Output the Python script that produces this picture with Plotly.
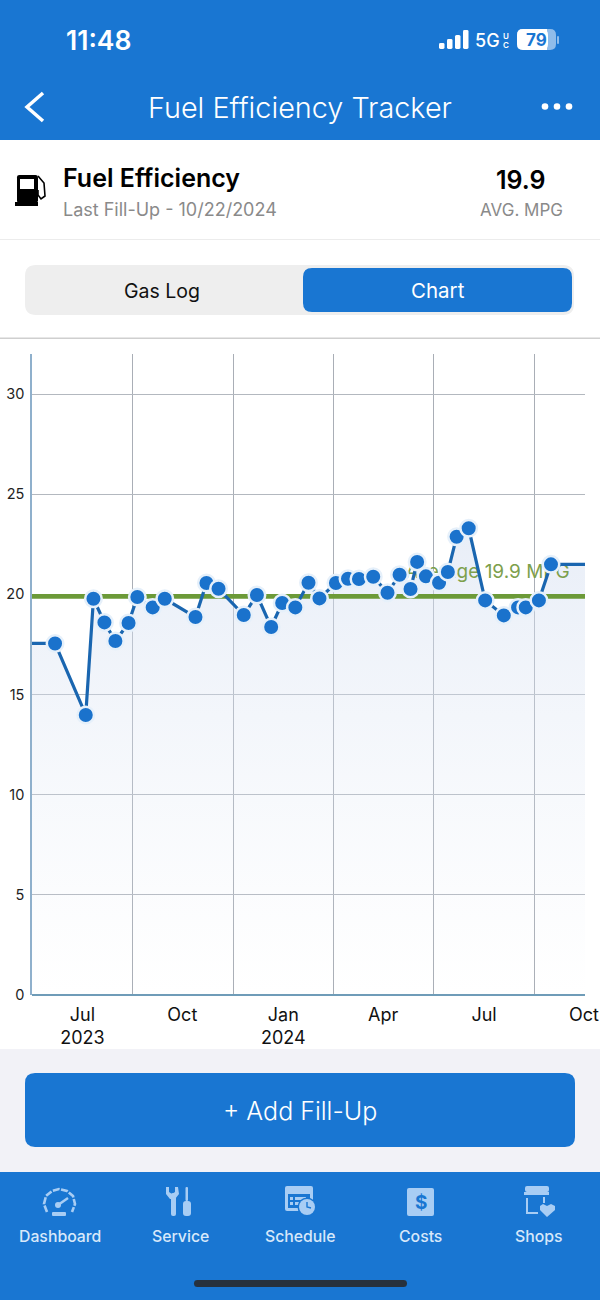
import plotly.graph_objects as go

# values
fill_dates = ["2023-07-22", "2023-08-19", "2023-08-26", "2023-09-05", "2023-09-15", "2023-09-27",
              "2023-10-05", "2023-10-19", "2023-10-30", "2023-11-27", "2023-12-07", "2023-12-18",
              "2024-01-10", "2024-01-22", "2024-02-04", "2024-02-14", "2024-02-26", "2024-03-09",
              "2024-03-19", "2024-04-03", "2024-04-14", "2024-04-24", "2024-05-07", "2024-05-20",
              "2024-05-31", "2024-06-10", "2024-06-16", "2024-06-24", "2024-07-06", "2024-07-14",
              "2024-07-22", "2024-08-02", "2024-08-17", "2024-09-03", "2024-09-16", "2024-09-23",
              "2024-10-05", "2024-10-16"]
mpg = [17.55, 13.98, 19.78, 18.6, 17.67, 18.57,
       19.87, 19.35, 19.78, 18.87, 20.57, 20.28,
       18.97, 19.97, 18.37, 19.57, 19.35, 20.58,
       19.8, 20.57, 20.78, 20.77, 20.88, 20.08,
       20.98, 20.27, 21.62, 20.9, 20.58, 21.12,
       22.88, 23.3, 19.7, 18.95, 19.35, 19.35,
       19.7, 21.5]
x_start = "2023-07-01"
x_end = "2024-11-16"
avg_mpg = 19.9
avg_label = "Average 19.9 MPG"
avg_label_x = "2024-11-02"
avg_label_y = 21.07
y_ticks = [0, 5, 10, 15, 20, 25, 30]
# quarter labels sit mid-quarter, the grid marks the quarter starts
x_tick_dates = ["2023-08-16", "2023-11-15", "2024-02-15", "2024-05-16", "2024-08-16", "2024-11-15"]
x_tick_labels = ["Jul<br>2023", "Oct", "Jan<br>2024", "Apr", "Jul", "Oct"]
nav_labels = ["Dashboard", "Service", "Schedule", "Costs", "Shops"]

BLUE = "#1976d2"
ICON = "#a8cdf4"
FONT = "Inter"


def X(px):
    return px / 600


def Y(py):
    return 1 - py / 1300


def path(points, close=True):
    s = "M" + " L".join(f"{X(a):.5f},{Y(b):.5f}" for a, b in points)
    return s + (" Z" if close else "")


def rrect_path(x0, y0, x1, y1, r):
    p = lambda a, b: f"{X(a):.5f},{Y(b):.5f}"
    return (f"M{p(x0 + r, y0)} L{p(x1 - r, y0)} Q{p(x1, y0)} {p(x1, y0 + r)} "
            f"L{p(x1, y1 - r)} Q{p(x1, y1)} {p(x1 - r, y1)} L{p(x0 + r, y1)} "
            f"Q{p(x0, y1)} {p(x0, y1 - r)} L{p(x0, y0 + r)} Q{p(x0, y0)} {p(x0 + r, y0)} Z")


shapes = []


def rect(x0, y0, x1, y1, color):
    shapes.append(dict(type="rect", xref="paper", yref="paper", x0=X(x0), x1=X(x1), y0=Y(y0), y1=Y(y1),
                       fillcolor=color, line_width=0))


def rrect(x0, y0, x1, y1, r, color):
    shapes.append(dict(type="path", xref="paper", yref="paper", path=rrect_path(x0, y0, x1, y1, r),
                       fillcolor=color, line_width=0))


def circle(cx, cy, r, color):
    shapes.append(dict(type="circle", xref="paper", yref="paper", x0=X(cx - r), x1=X(cx + r),
                       y0=Y(cy - r), y1=Y(cy + r), fillcolor=color, line_width=0))


def poly(points, color):
    shapes.append(dict(type="path", xref="paper", yref="paper", path=path(points),
                       fillcolor=color, line_width=0))


def stroke(points, color, w):
    shapes.append(dict(type="path", xref="paper", yref="paper", path=path(points, close=False),
                       line=dict(color=color, width=w)))


annotations = []


def label(px, py, text, size, color, anchor="center", weight=400):
    annotations.append(dict(xref="paper", yref="paper", x=X(px), y=Y(py), text=text, showarrow=False,
                            xanchor=anchor, yanchor="middle", align=anchor, borderpad=0,
                            font=dict(family=FONT, size=size, color=color, weight=weight)))


# page blocks
rect(0, 0, 600, 140, BLUE)
rect(0, 239, 600, 240, "#ececec")
rect(0, 337.5, 600, 339, "#cfcfcf")
rect(0, 1049, 600, 1172, "#f2f2f7")
rect(0, 1172, 600, 1300, BLUE)
rrect(25, 265, 574, 315, 11, "#eeeeee")
rrect(303, 268, 572, 312, 9, BLUE)
rrect(25, 1073, 575, 1147, 10, BLUE)
rrect(194, 1280, 407, 1287, 3.5, "#27313d")

# status bar
for bar_x, bar_top in [(439, 43), (447, 39), (455, 35), (463, 30)]:
    rrect(bar_x, bar_top, bar_x + 5.5, 49, 1.5, "#ffffff")
rrect(517, 29, 556, 50, 6, "#8fbcea")
rrect(517, 29, 548, 50, 6, "#ffffff")
rect(542, 29, 547, 50, "#ffffff")
rrect(557, 36, 559, 44, 1, "#8fbcea")

# header icons
stroke([(43, 93), (27, 107), (43, 121)], "#ffffff", 3.5)
for dot_x in [545, 557, 569]:
    circle(dot_x, 106.5, 3.3, "#ffffff")

# fuel pump
rrect(17, 175, 38, 203, 2.5, "#000000")
rect(15, 202, 38, 206, "#000000")
rect(20, 179, 34, 189, "#ffffff")
stroke([(38, 176), (44, 183), (45, 196), (41, 199), (38, 195), (38, 190)], "#000000", 1.6)

# gauge
shapes.append(dict(type="path", xref="paper", yref="paper",
                   path=path([(47, 1212), (44, 1204), (46, 1196), (52, 1191), (59, 1189), (67, 1191),
                              (73, 1196), (75, 1204), (72, 1212)], close=False),
                   line=dict(color=ICON, width=2.6, dash="7px,1.5px")))
stroke([(58, 1205), (68, 1198)], ICON, 2.5)
circle(58, 1205, 3, ICON)
rrect(52, 1212, 66, 1216, 1, ICON)
# wrench and screwdriver
rrect(171, 1193, 176, 1216, 2, ICON)
poly([(166, 1187), (169, 1187), (169, 1192), (172, 1194), (175, 1192), (175, 1187), (178, 1187),
      (179, 1194), (175, 1199), (170, 1199), (166, 1194)], ICON)
rrect(185.5, 1187, 188, 1201, 1, ICON)
rrect(183, 1201, 191, 1216, 3, ICON)
# schedule
rrect(285, 1186, 313, 1211, 2, ICON)
rect(288, 1194, 310, 1208, BLUE)
rect(290, 1197, 293, 1200, ICON)
rect(295, 1197, 306, 1200, ICON)
rect(290, 1202, 293, 1205, ICON)
rect(295, 1202, 300, 1205, ICON)
circle(307, 1207, 9.5, BLUE)
circle(307, 1207, 8, ICON)
stroke([(307, 1202), (307, 1207), (311, 1208)], BLUE, 1.4)
# costs
rrect(407, 1188, 434, 1216, 2, ICON)
label(420.5, 1202, "$", 19, BLUE, weight=700)
# shops
rrect(525, 1186, 549, 1192, 2, ICON)
poly([(524, 1192), (549, 1192), (549, 1195), (524, 1195)], ICON)
stroke([(527, 1198), (527, 1213), (538, 1213)], ICON, 2)
stroke([(544, 1197), (544, 1203)], ICON, 2)
poly([(547, 1217), (540, 1210), (540, 1206), (543, 1204), (547, 1206), (551, 1204), (555, 1206),
      (555, 1210)], ICON)

# texts
label(98, 40, "11:48", 26.5, "#ffffff", weight=600)
label(487, 40, "5G", 18, "#ffffff", weight=500)
label(505.5, 36, "U", 8, "#ffffff", weight=600)
label(505.5, 44.5, "C", 8, "#ffffff", weight=600)
label(536, 40, "79", 17, BLUE, weight=700)
label(300, 107, "Fuel Efficiency Tracker", 28.8, "#ffffff", weight=300)
label(62, 178, "Fuel Efficiency", 25, "#000000", "left", weight=600)
label(62, 209, "Last Fill-Up - 10/22/2024", 18, "#8a8a8a", "left")
label(521, 180, "19.9", 25, "#000000", weight=600)
label(521, 210, "AVG. MPG", 17, "#8a8a8a")
label(162, 291, "Gas Log", 19.5, "#111111")
label(438, 290, "Chart", 20.5, "#ffffff")
label(300, 1111, "+ Add Fill-Up", 25, "#ffffff", weight=300)
for nav_x, nav_label in zip([60, 180, 300, 420, 539], nav_labels):
    label(nav_x, 1236, nav_label, 15.8, "#d7e8fa", weight=500)

# line runs on to both edges of the plot at the first and last value
line_x = [x_start] + fill_dates + [x_end]
line_y = [mpg[0]] + mpg + [mpg[-1]]

fig = go.Figure()
fig.add_trace(go.Scatter(x=line_x, y=line_y, mode="none", fill="tozeroy",
                         fillgradient=dict(type="vertical",
                                           colorscale=[[0, "rgba(225,233,245,0.0)"],
                                                       [1, "rgba(214,224,241,0.55)"]])))
fig.add_trace(go.Scatter(x=[x_start, x_end], y=[avg_mpg, avg_mpg], mode="lines",
                         line=dict(color="#6c9a38", width=4.7)))
fig.add_trace(go.Scatter(x=[avg_label_x], y=[avg_label_y], mode="text", text=[avg_label],
                         textposition="middle left",
                         textfont=dict(family=FONT, size=19, color="#7da04c")))
fig.add_trace(go.Scatter(x=line_x, y=line_y, mode="lines", line=dict(color="#1a66b0", width=3.2)))
fig.add_trace(go.Scatter(x=fill_dates, y=mpg, mode="markers",
                         marker=dict(color="#1a72cc", size=16.5, line=dict(color="#e6f0fa", width=2.5))))

fig.update_layout(
    width=600, height=1300,
    margin=dict(l=0, r=0, t=0, b=0),
    paper_bgcolor="#ffffff", plot_bgcolor="rgba(0,0,0,0)",
    showlegend=False,
    shapes=shapes, annotations=annotations,
    xaxis=dict(domain=[X(32), X(585)], range=[x_start, x_end], automargin=False,
               tickmode="array", tickvals=x_tick_dates, ticktext=x_tick_labels, ticklabelstandoff=7,
               showgrid=False, zeroline=False, showline=False, ticks="",
               minor=dict(dtick="M3", tick0="2023-01-01", showgrid=True, gridcolor="#a9aeb6",
                          gridwidth=1.3, ticks=""),
               tickfont=dict(family=FONT, size=18, color="#111111")),
    yaxis=dict(domain=[Y(995), Y(354)], range=[0, 32], automargin=False, tickvals=y_ticks, showgrid=True,
               gridcolor="#b3b8bf", gridwidth=1, zeroline=True, zerolinecolor="#6f9cb8", zerolinewidth=2,
               showline=True, linecolor="#8fb0cc", linewidth=1.5, ticks="", ticklabelstandoff=3,
               tickfont=dict(family=FONT, size=14.5, color="#222222")),
)

# default page keeps a margin around the body
fig.write_html("out.html", config=dict(displayModeBar=False),
               post_script="document.body.style.margin='0';")
